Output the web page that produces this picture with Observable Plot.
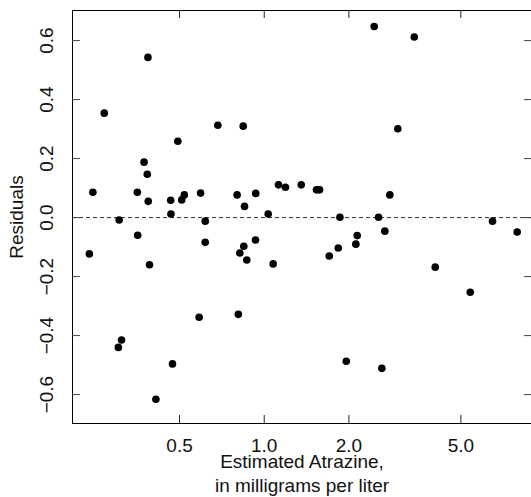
<!DOCTYPE html>
<html>
<head>
<meta charset="utf-8">
<script src="https://cdn.jsdelivr.net/npm/d3@7"></script>
<script src="https://cdn.jsdelivr.net/npm/@observablehq/plot@0.6"></script>
<style>
  html, body { margin: 0; padding: 0; background: #fff; }
  #chart svg { display: block; }
</style>
</head>
<body>
<div id="chart"></div>
<script>
const atrazine = [0.239,0.246,0.270,0.305,0.303,0.311,0.354,0.355,0.374,0.384,0.386,0.387,0.391,0.412,0.465,0.466,0.472,0.493,0.509,0.520,0.587,0.594,0.617,0.617,0.684,0.801,0.809,0.819,0.842,0.846,0.851,0.867,0.933,0.931,1.033,1.076,1.124,1.190,1.354,1.534,1.573,1.703,1.833,1.858,1.957,2.117,2.141,2.460,2.549,2.619,2.684,2.796,2.985,3.415,4.055,5.40,6.48,7.93];
const residuals = [-0.123,0.086,0.354,-0.008,-0.440,-0.415,0.086,-0.060,0.188,0.147,0.543,0.055,-0.160,-0.616,0.059,0.012,-0.496,0.259,0.060,0.077,-0.338,0.083,-0.012,-0.084,0.313,0.077,-0.328,-0.120,0.310,-0.097,0.038,-0.144,0.082,-0.076,0.012,-0.157,0.111,0.103,0.111,0.094,0.094,-0.130,-0.103,0.001,-0.487,-0.090,-0.061,0.648,0.001,-0.511,-0.046,0.077,0.301,0.612,-0.168,-0.253,-0.012,-0.049];
const xTicks = [0.5, 1, 2, 5];
const xTickLabels = ["0.5", "1.0", "2.0", "5.0"];
const yTicks = [-0.6, -0.4, -0.2, 0, 0.2, 0.4, 0.6];
const yTickLabels = ["\u22120.6", "\u22120.4", "\u22120.2", "0.0", "0.2", "0.4", "0.6"];
const xDomain = [0.2082, 8.915];
const yDomain = [-0.698, 0.702];
const xTitle = "Estimated Atrazine,\nin milligrams per liter";
const yTitle = "Residuals";

const W = 531, H = 497;
const mL = 72, mR = 0, mT = 10, mB = 74;
const fw = W - mL - mR, fh = H - mT - mB;
const data = atrazine.map((x, i) => ({x, y: residuals[i]}));
const font = 19;

const chart = Plot.plot({
  width: W, height: H,
  marginLeft: mL, marginRight: mR, marginTop: mT, marginBottom: mB,
  style: {fontFamily: "'Liberation Sans', Arial, Helvetica, sans-serif", background: "#fff", color: "#000"},
  x: {type: "log", domain: xDomain, axis: null},
  y: {domain: yDomain, axis: null},
  marks: [
    Plot.ruleY([0], {stroke: "#333", strokeDasharray: "4,3"}),
    // frame lines
    Plot.ruleX([xDomain[0]], {stroke: "#000"}),
    Plot.ruleY(yDomain, {stroke: "#000"}),
    // ticks inward
    Plot.tickX(xTicks, {x: d => d, insetTop: fh - 8, stroke: "#222"}),
    Plot.tickX(xTicks, {x: d => d, insetBottom: fh - 8, stroke: "#222"}),
    Plot.tickY(yTicks, {y: d => d, insetRight: fw - 8, stroke: "#444"}),
    Plot.tickY(yTicks, {y: d => d, insetLeft: fw - 7, stroke: "#444"}),
    // tick labels
    Plot.text(xTicks, {x: d => d, text: (d, i) => xTickLabels[i], frameAnchor: "bottom", lineAnchor: "top", dy: 15, fontSize: font, fill: "#111"}),
    Plot.text(yTicks, {y: d => d, text: (d, i) => yTickLabels[i], frameAnchor: "left", rotate: -90, textAnchor: "middle", lineAnchor: "bottom", dx: -20, fontSize: font, fill: "#111"}),
    // axis titles
    Plot.text([xTitle], {text: d => d, frameAnchor: "bottom", lineAnchor: "top", dy: 28, fontSize: font, lineHeight: 23.5 / font, fill: "#111"}),
    Plot.text([yTitle], {text: d => d, frameAnchor: "left", rotate: -90, textAnchor: "middle", lineAnchor: "bottom", dx: -50, fontSize: font, fill: "#111"}),
    // points
    Plot.dot(data, {x: "x", y: "y", r: 3.8, fill: "#000", stroke: "none"})
  ]
});
document.getElementById("chart").appendChild(chart);
</script>
</body>
</html>
